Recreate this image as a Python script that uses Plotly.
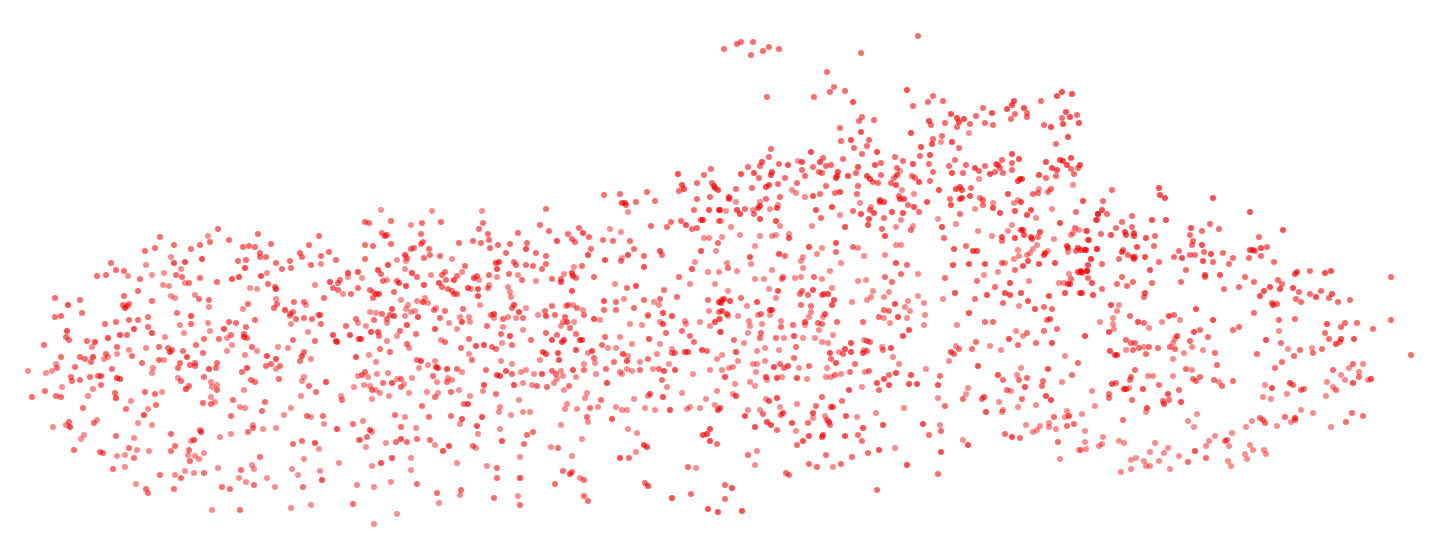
import plotly.graph_objects as go

# points as (x, y, shade), shade 1 = pale, 2 = medium, 3 = strong
west = [
(218,229,2),(208,236,1),(160,237,2),(258,234,2),(319,236,2),(229,240,2),(210,242,2),(174,245,2),(200,245,2),(271,244,2),
(309,245,2),(155,248,2),(191,249,2),(145,251,2),(243,247,2),(249,246,2),(255,247,2),(260,253,2),(260,257,2),(266,257,2),
(300,253,2),(302,257,2),(329,252,2),(321,256,2),(336,260,2),(171,257,1),(202,259,3),(238,261,2),(246,260,2),(174,263,3),
(185,262,3),(146,265,1),(111,263,2),(290,261,2),(276,263,2),(311,265,2),(321,264,1),(245,268,3),(282,269,2),(291,268,2),
(181,269,1),(116,270,2),(124,271,2),(128,276,1),(97,276,2),(106,275,2),(164,273,1),(152,275,1),(176,275,2),(182,277,2),
(267,273,1),(232,279,3),(239,277,3),(261,276,3),(200,278,2),(140,279,2),(217,282,2),(348,273,3),(358,272,3),(348,277,1),
(340,280,2),(330,282,3),(338,283,2),(185,283,1),(189,283,2),(163,285,1),(169,286,1),(268,284,2),(315,285,1),(250,288,1),
(257,289,1),(275,287,2),(276,289,3),(333,288,2),(338,290,2),(343,294,1),(351,294,2),(358,288,2),(138,291,2),(124,296,2),
(55,298,2),(80,300,2),(171,296,1),(175,298,1),(195,295,1),(199,299,2),(152,301,2),(209,300,2),(209,307,1),(276,299,1),
(277,304,2),(294,302,2),(304,302,2),(306,305,1),(324,298,2),(68,305,3),(123,305,2),(129,304,2),(127,306,2),(125,308,3),
(248,304,2),(243,309,1),(274,308,2),(285,310,3),(293,312,2),(290,314,2),(290,316,1),(82,313,2),(55,317,2),(61,316,2),
(177,313,2),(191,316,3),(148,317,2),(138,320,2),(129,320,2),(255,320,2),(296,319,2),(304,318,2),(312,319,2),(318,315,1),
(320,315,3),(356,319,2),(358,323,1),(116,322,2),(105,324,2),(191,324,2),(180,325,1),(229,322,2),(236,323,2),(208,323,1),
(291,324,1),(321,324,2),(134,329,3),(148,327,2),(67,331,3),(224,329,3),(246,327,2),(210,331,1),(346,326,2),(152,333,3),
(184,333,1),(120,335,3),(127,335,2),(231,335,2),(227,338,1),(244,334,2),(244,337,3),(247,338,2),(308,332,1),(333,335,3),
(350,335,3),(66,337,2),(69,340,2),(108,338,3),(87,341,2),(95,342,3),(165,337,1),(204,339,2),(219,339,2),(293,340,2),
(315,341,2),(336,341,3),(337,342,3),(359,339,3),(44,345,2),(92,347,1),(117,347,2),(196,345,2),(232,345,1),(146,348,1),
(159,347,2),(168,348,2),(172,350,2),(170,352,3),(252,347,2),(257,351,1),(278,347,1),(288,348,1),(129,350,1),(183,351,2),
(203,353,2),(227,351,1),(304,352,2),(302,356,3),(61,357,2),(80,357,2),(93,357,3),(85,359,2),(106,354,2),(108,357,1),
(104,359,1),(117,354,1),(132,356,2),(187,357,3),(245,355,1),(267,356,3),(276,359,3),(311,359,1),(356,357,3),(91,362,2),
(159,360,2),(164,360,1),(56,364,1),(57,368,2),(52,371,1),(46,373,1),(28,371,1),(75,367,2),(142,363,2),(153,368,1),
(180,363,2),(178,368,2),(190,365,2),(195,363,2),(195,366,2),(217,363,2),(216,368,2),(209,369,3),(247,368,3),(242,372,2),
(266,366,2),(271,364,2),(276,369,1),(280,366,2),(300,361,2),(112,369,2),(152,373,1),(204,377,2),(358,376,1),(71,377,2),
(90,377,2),(98,376,2),(101,376,3),(117,378,3),(120,379,3),(72,381,2),(80,380,2),(178,378,1),(181,381,2),(279,379,2),
(251,380,2),(255,382,2),(304,377,1),(302,381,1),(326,382,3),(62,387,1),(101,385,2),(211,382,1),(212,387,1),(217,385,1),
(217,390,2),(189,386,2),(186,389,3),(309,386,2),(354,387,1),(93,389,1),(45,391,2),(244,390,1),(316,392,2),(145,392,2),
(155,394,2),(162,392,1),(115,393,2),(116,398,3),(56,396,2),(61,397,2),(32,397,2),(88,396,1),(301,396,1),(341,396,1),
(342,400,2),(211,397,1),(233,400,2),(131,401,1),(203,403,2),(211,404,2),(215,402,1),(265,402,2),(156,405,2),(83,408,2),
(126,409,2),(148,409,1),(240,407,1),(245,408,1),(291,408,1),(262,411,2),(144,415,3),(231,416,2),(284,415,1),(307,416,2),
(311,417,1),(323,416,2),(97,420,1),(94,423,2),(69,422,2),(66,425,1),(70,427,3),(53,427,1),(138,423,1),(152,425,1),
(324,424,1),(353,424,2),(253,425,1),(253,428,2),(248,432,2),(263,429,1),(276,428,1),(200,430,2),(201,432,3),(337,429,3),
(84,435,1),(81,439,1),(116,436,2),(134,438,1),(171,434,2),(220,437,1),(231,434,1),(191,441,1),(194,440,3),(302,441,2),
(293,444,2),(315,443,3),(319,449,1),(359,440,1),(175,446,2),(189,450,2),(171,451,2),(129,448,2),(137,450,1),(149,451,1),
(74,450,2),(100,452,2),(103,453,2),(188,455,1),(204,453,1),(195,456,1),(199,459,1),(190,461,2),(117,456,1),(125,455,1),
(134,458,2),(260,457,2),(304,459,1),(339,463,1),(113,469,2),(125,467,1),(218,468,1),(252,465,1),(254,469,1),(241,470,2),
(292,469,1),(320,471,1),(185,471,1),(194,473,1),(204,473,2),(160,475,2),(175,475,1),(181,478,2),(298,475,1),(239,478,1),
(267,478,1),(322,480,3),(246,482,1),(254,485,2),(136,484,1),(357,485,1),(303,487,2),(222,487,2),(230,489,2),(275,487,1),
(146,489,2),(174,489,2),(148,493,2),(311,505,1),(353,504,2),(291,508,1),(240,510,2),(212,510,1),
]

centre = [
(604,195,2),(620,194,2),(647,192,2),(679,191,2),(697,199,2),(710,197,2),(622,203,3),(625,203,3),(626,205,2),(636,202,2),
(655,201,2),(628,212,1),(546,209,2),(381,210,1),(432,211,1),(482,211,1),(694,210,2),(709,210,3),(719,210,3),(391,221,2),
(365,222,2),(369,223,2),(411,225,1),(422,223,2),(441,222,2),(483,223,2),(540,225,2),(579,228,2),(610,229,1),(621,232,1),
(651,226,2),(671,222,2),(667,227,2),(681,221,2),(686,225,3),(692,229,2),(697,228,2),(701,220,3),(703,220,3),(719,221,2),
(479,229,2),(488,234,2),(518,233,2),(549,231,2),(568,234,2),(583,233,3),(589,237,2),(382,233,2),(385,236,3),(387,235,2),
(421,234,2),(489,240,2),(557,241,3),(572,239,2),(575,242,2),(603,240,2),(613,241,2),(630,241,2),(704,238,1),(709,238,1),
(718,243,2),(365,245,2),(373,246,2),(391,244,2),(423,242,2),(421,244,2),(459,243,2),(473,241,2),(481,243,2),(498,245,2),
(510,244,2),(527,243,2),(429,249,2),(411,249,2),(414,248,2),(490,248,2),(526,249,3),(634,249,2),(591,249,2),(506,253,2),
(536,253,2),(588,255,3),(660,251,3),(662,255,2),(701,251,3),(716,251,1),(405,255,3),(407,258,2),(430,255,2),(440,256,2),
(424,258,2),(546,256,2),(628,255,3),(644,256,2),(622,258,1),(621,261,2),(365,259,2),(397,260,1),(406,261,1),(452,259,1),
(605,260,3),(514,262,2),(516,265,2),(496,263,3),(499,262,3),(526,265,2),(533,266,2),(546,264,2),(388,265,3),(465,266,2),
(497,269,3),(542,269,2),(574,267,1),(582,266,2),(644,267,3),(695,262,1),(692,269,3),(378,270,3),(381,274,2),(405,269,1),
(462,272,1),(708,272,1),(719,272,1),(412,273,3),(431,275,1),(442,275,2),(445,272,2),(457,276,2),(489,275,2),(509,274,2),
(518,275,1),(564,274,1),(572,273,3),(573,276,3),(576,278,2),(594,277,2),(679,277,2),(417,277,2),(362,278,1),(474,278,3),
(477,276,2),(497,277,1),(522,280,2),(536,281,1),(552,279,2),(561,279,2),(561,282,3),(383,281,2),(387,280,1),(397,281,2),
(399,283,3),(446,280,2),(454,280,3),(479,280,1),(615,284,1),(690,284,1),(715,284,1),(406,286,3),(424,285,3),(439,283,3),
(442,287,2),(489,285,1),(508,287,1),(636,286,3),(627,288,2),(370,290,2),(373,292,1),(394,292,2),(448,289,2),(452,291,2),
(468,288,3),(471,289,1),(478,289,3),(488,288,2),(510,292,1),(664,290,2),(572,291,3),(376,294,3),(379,294,3),(373,298,2),
(454,294,2),(457,294,2),(478,296,3),(511,297,1),(677,297,2),(401,300,1),(417,301,1),(423,302,3),(425,298,1),(428,303,1),
(604,301,3),(624,299,1),(616,302,2),(644,300,2),(654,302,1),(660,299,2),(659,305,1),(708,300,2),(719,302,3),(408,305,1),
(480,305,1),(514,305,3),(512,308,2),(526,308,1),(552,306,2),(568,305,2),(566,306,1),(573,305,1),(577,308,2),(604,310,2),
(616,310,2),(634,308,2),(709,311,1),(392,309,3),(406,309,1),(436,308,1),(434,310,2),(463,309,2),(583,310,1),(719,312,2),
(370,312,1),(376,313,1),(382,314,2),(390,315,2),(394,316,3),(411,312,1),(415,311,1),(445,311,2),(519,312,3),(545,311,2),
(663,313,3),(648,315,1),(672,316,3),(405,316,1),(418,317,3),(460,317,1),(469,317,1),(440,318,2),(494,314,3),(491,315,2),
(494,318,1),(503,319,2),(508,317,1),(516,318,1),(523,318,2),(538,315,1),(546,316,3),(555,315,2),(584,315,2),(565,317,2),
(594,319,3),(600,320,1),(648,316,1),(374,320,2),(387,319,2),(387,323,1),(462,322,3),(470,322,1),(449,323,1),(563,322,1),
(567,322,3),(574,322,1),(630,324,1),(642,325,1),(660,322,1),(663,324,3),(685,321,1),(686,324,1),(700,322,1),(710,326,1),
(715,322,3),(719,319,1),(366,326,1),(407,325,3),(435,329,3),(457,329,1),(487,326,2),(503,327,1),(523,330,1),(561,326,1),
(570,328,2),(371,332,3),(378,332,3),(400,331,2),(546,333,2),(576,334,2),(666,333,2),(682,331,2),(720,332,2),(379,336,2),
(397,336,1),(416,334,2),(510,336,3),(501,334,2),(557,335,2),(605,337,2),(620,337,1),(690,336,2),(361,339,3),(387,341,1),
(441,340,1),(445,342,2),(469,339,2),(531,340,2),(552,340,3),(564,340,3),(562,342,3),(580,340,3),(582,340,3),(649,339,3),
(694,342,2),(407,344,2),(409,348,1),(380,349,2),(476,346,3),(484,345,3),(502,343,1),(512,345,2),(492,347,2),(496,349,2),
(461,348,2),(602,345,2),(608,348,1),(616,348,1),(632,344,1),(660,344,1),(390,352,2),(576,350,3),(588,353,1),(592,351,3),
(543,352,3),(546,354,3),(558,353,3),(623,354,3),(657,354,1),(672,349,1),(672,353,2),(675,353,2),(685,352,3),(688,352,3),
(702,350,3),(707,351,2),(369,355,1),(469,354,1),(594,358,2),(628,356,1),(648,359,2),(472,360,2),(559,360,3),(627,361,3),
(717,359,1),(376,362,1),(417,360,2),(421,361,3),(435,361,1),(428,365,1),(501,361,1),(512,364,1),(540,360,1),(595,363,1),
(584,364,1),(614,362,2),(640,362,1),(669,364,1),(419,368,1),(436,367,3),(438,368,3),(447,369,3),(457,369,2),(486,370,2),
(521,372,1),(526,370,1),(552,371,2),(561,371,1),(573,370,3),(584,370,2),(606,369,2),(620,372,1),(627,369,1),(632,371,1),
(640,370,2),(653,369,1),(659,369,2),(664,371,3),(675,370,3),(710,370,1),(365,372,2),(362,375,2),(377,374,1),(388,373,1),
(462,372,1),(433,376,2),(497,375,3),(500,376,3),(506,371,3),(512,374,2),(534,374,1),(542,374,3),(556,374,2),(563,376,1),
(576,377,1),(596,374,1),(622,374,1),(693,374,1),(368,377,1),(412,378,1),(401,379,2),(397,379,1),(448,378,1),(452,380,1),
(557,379,1),(662,380,2),(383,383,2),(392,383,3),(404,384,1),(401,387,2),(437,382,1),(447,382,2),(484,385,3),(523,383,1),
(514,385,3),(532,385,1),(537,386,2),(554,383,1),(547,387,2),(569,386,2),(607,383,3),(667,387,1),(364,385,1),(370,386,1),
(372,390,2),(376,390,1),(380,393,1),(427,392,1),(409,393,1),(438,393,1),(451,392,2),(459,390,1),(483,391,1),(496,394,2),
(564,390,1),(717,391,1),(682,393,1),(389,396,1),(435,397,2),(372,399,1),(470,396,1),(587,393,1),(585,398,1),(650,394,3),
(648,396,1),(663,397,3),(519,400,1),(601,400,2),(634,399,1),(706,399,1),(422,406,2),(464,404,2),(468,404,3),(500,407,1),
(567,404,1),(616,407,1),(715,405,1),(565,409,1),(577,409,1),(590,408,2),(598,407,1),(622,410,1),(627,410,1),(645,408,1),
(655,410,1),(670,410,3),(687,409,1),(690,407,1),(700,408,1),(718,410,3),(499,412,1),(523,412,1),(530,412,1),(511,415,1),
(395,415,2),(405,417,1),(429,417,2),(451,416,2),(462,419,3),(482,417,3),(587,417,2),(588,422,1),(612,419,3),(363,421,1),
(460,424,1),(561,425,1),(401,427,2),(416,428,1),(477,426,3),(500,429,1),(628,429,1),(710,429,3),(370,430,3),(372,432,1),
(533,432,2),(637,433,1),(478,434,1),(527,435,2),(367,437,2),(703,435,3),(707,434,3),(401,439,3),(417,439,2),(360,440,1),
(430,440,2),(386,443,1),(396,442,2),(407,442,2),(502,441,3),(582,439,1),(710,441,3),(366,447,1),(435,445,1),(449,446,3),
(473,446,2),(476,448,1),(524,444,2),(551,447,1),(558,448,2),(644,445,3),(647,447,3),(717,444,2),(443,451,3),(572,456,1),
(636,452,1),(392,458,3),(411,458,1),(520,457,1),(620,458,3),(629,458,2),(381,463,3),(457,463,1),(372,466,1),(487,466,1),
(497,468,2),(411,470,1),(688,467,2),(696,468,1),(563,471,2),(572,472,2),(570,474,3),(520,478,3),(497,478,2),(580,478,1),
(584,480,2),(391,482,1),(417,484,2),(374,487,1),(555,484,2),(645,483,2),(648,486,3),(437,493,2),(461,490,2),(460,495,1),
(494,498,2),(518,496,1),(691,494,2),(584,496,2),(672,498,3),(439,503,1),(520,505,2),(588,501,2),(708,509,3),(718,512,3),
(397,514,1),(374,524,1),(678,174,3),(682,185,3),(684,189,3),(697,183,2),(704,175,2),(711,169,2),(712,183,2),(714,186,3),
(715,188,3),(718,190,3),
]

north = [
(918,36,2),(724,49,2),(737,44,2),(741,42,2),(753,42,2),(751,55,2),(763,51,2),(769,47,2),(779,49,2),(861,53,2),
(827,72,2),(834,87,2),(830,92,2),(845,91,2),(767,97,2),(814,97,2),(853,102,3),(907,90,3),(933,96,2),(928,102,2),
(943,101,2),(913,106,2),(1014,101,3),(1012,105,3),(1041,101,2),(1057,96,3),(1062,92,3),(1072,94,3),(983,108,2),(1007,109,3),
(1024,108,3),(1027,113,2),(1027,117,2),(951,114,3),(976,116,2),(992,113,3),(1015,114,2),(1011,119,2),(1066,112,3),(1062,118,2),
(1070,117,3),(1077,115,2),(862,117,2),(859,121,2),(874,120,2),(957,118,3),(959,122,3),(964,119,3),(929,121,3),(931,125,2),
(945,123,2),(970,124,2),(957,127,2),(985,123,2),(993,125,2),(1044,125,2),(1051,127,3),(1063,124,3),(1079,123,3),(840,128,2),
(861,132,3),(911,133,3),(969,133,1),(942,136,2),(933,139,2),(1068,137,3),(841,141,2),(851,140,3),(869,140,2),(932,144,3),
(941,142,1),(952,142,3),(854,148,2),(867,146,2),(921,147,3),(959,148,2),(1056,144,2),(771,149,2),(811,152,3),(862,154,2),
(877,152,3),(930,155,3),(1012,154,3),(769,157,2),(895,157,2),(920,156,2),(823,158,2),(843,159,2),(903,161,2),(955,160,2),
(1002,160,2),(1019,159,3),(1071,158,3),(1060,160,3),(1063,161,3),(762,162,3),(760,166,2),(798,161,1),(802,162,3),(820,162,3),
(813,167,2),(779,164,2),(788,165,3),(826,166,2),(831,165,2),(858,167,3),(875,165,3),(881,163,2),(913,164,3),(929,164,2),
(949,166,2),(966,165,2),(996,164,2),(998,165,3),(1012,163,2),(1046,162,3),(1067,165,3),(1080,165,3),(1078,168,2),(748,167,2),
(897,168,2),(900,171,1),(975,168,3),(979,171,2),(985,166,2),(1000,168,2),(1012,170,2),(1052,168,3),(1057,170,3),(1071,169,2),
(741,174,3),(754,173,3),(772,172,3),(771,175,3),(802,170,2),(819,172,2),(822,173,2),(838,172,3),(856,173,2),(933,172,2),
(952,173,3),(963,173,2),(995,172,2),(990,174,3),(1003,173,2),(1039,175,3),(1074,174,2),(759,178,2),(785,178,2),(805,176,2),
(837,176,3),(836,178,3),(848,176,3),(867,176,3),(870,179,3),(881,175,2),(897,175,3),(894,178,2),(912,176,2),(915,178,2),
(930,181,2),(1046,178,2),(1056,176,2),(797,183,2),(873,182,2),(878,183,2),(891,183,2),(919,182,3),(979,179,1),(1018,181,3),
(1020,179,3),(1022,179,3),(766,187,3),(769,185,3),(778,184,2),(752,188,2),(736,189,2),(826,186,2),(858,186,2),(896,185,3),
(956,189,3),(960,187,3),(962,190,3),(971,188,2),(1073,185,1),(792,190,1),(939,190,3),(902,190,1),(1039,189,1),(1051,189,2),
(796,193,1),(835,193,2),(840,192,3),(857,194,2),(820,194,2),(914,194,1),(1008,194,3),(1033,194,2),(1038,193,2),(1048,192,2),
(729,197,3),(729,199,3),(766,199,2),(780,197,2),(805,197,1),(813,196,3),(899,196,2),(970,196,3),(960,199,3),(962,198,3),
(736,202,1),(760,202,1),(860,203,1),(880,200,3),(880,202,3),(884,202,3),(900,199,3),(904,199,3),(950,199,2),(927,202,3),
(980,198,2),(983,200,2),(1018,200,1),(1021,202,3),(1014,203,1),(1083,201,3),(993,203,1),(726,211,1),(720,210,3),(737,210,3),
(740,214,3),(745,209,2),(753,210,1),(754,214,2),(758,208,3),(760,206,3),(778,205,1),(777,208,3),(770,209,1),(832,207,3),
(816,210,3),(871,207,1),(870,210,2),(874,213,3),(908,205,2),(914,207,3),(951,205,3),(983,205,2),(975,209,1),(993,208,3),
(1052,209,1),(1015,211,3),(1031,210,3),(1027,215,3),(853,211,2),(861,214,3),(840,215,1),(892,212,3),(903,213,3),(919,212,2),
(960,214,2),(1000,213,3),(1076,212,2),(1098,214,2),(760,219,3),(821,218,2),(869,219,3),(884,218,2),(901,220,1),(938,219,1),
(1036,218,1),(1097,220,2),(721,221,1),(776,221,3),(1060,223,3),(780,226,1),(731,227,1),(812,226,1),(845,227,3),(868,225,3),
(896,227,1),(913,226,1),(942,227,3),(956,224,1),(1012,225,1),(1075,228,2),(882,229,2),(911,230,2),(978,231,1),(1008,231,1),
(1021,230,3),(1023,230,3),(1040,232,3),(1079,230,1),(1086,231,1),(1073,233,1),(1071,235,1),(740,235,1),(722,237,1),(760,236,1),
(772,236,1),(776,235,1),(789,234,1),(789,238,3),(885,236,3),(992,236,1),(1024,235,3),(1031,237,3),(1032,239,3),(1002,237,3),
(1002,241,2),(1015,238,3),(1038,237,2),(1054,239,1),(1088,240,2),(944,238,2),(836,243,3),(755,246,1),(809,247,3),(822,248,1),
(853,247,2),(858,248,1),(896,245,1),(901,245,1),(966,246,2),(1037,245,1),(1067,246,3),(1068,248,3),(1078,248,3),(1085,250,3),
(1097,249,2),(954,249,3),(1033,249,1),(779,254,3),(785,256,2),(836,252,2),(817,254,1),(885,255,1),(864,256,1),(973,251,3),
(977,251,3),(1018,250,1),(1019,256,1),(1027,255,1),(1030,253,1),(1048,251,1),(1045,253,3),(1044,255,3),(1068,252,1),(1076,251,2),
(1091,259,1),(750,257,3),(803,257,1),(801,261,1),(1014,259,1),(1028,261,3),(727,263,1),(751,264,1),(841,263,1),(896,263,3),
(907,265,2),(969,264,3),(985,264,3),(1002,263,2),(1005,263,1),(1039,264,3),(1055,263,3),(953,265,3),(1088,265,1),(728,268,2),
(737,271,1),(772,270,1),(803,268,1),(830,271,1),(1023,266,3),(1015,270,2),(998,272,1),(1078,272,3),(1081,272,3),(1087,271,3),
(1069,274,1),(984,275,1),(901,274,2),(918,274,1),
]

south = [
(755,279,1),(764,279,1),(782,279,2),(783,277,2),(795,278,1),(801,277,1),(814,277,2),(822,279,1),(858,281,1),(866,280,1),
(885,277,2),(892,282,2),(945,278,2),(977,281,2),(995,287,2),(1010,283,3),(1029,281,1),(1059,283,1),(1064,283,1),(1071,279,2),
(1068,284,3),(1070,284,3),(769,289,1),(778,291,3),(802,291,2),(800,294,2),(808,295,2),(813,290,3),(832,288,1),(824,294,2),
(822,295,2),(828,294,3),(728,291,1),(873,291,1),(889,292,1),(918,296,1),(955,293,3),(987,295,3),(1005,293,3),(1010,295,3),
(1021,293,3),(1049,296,3),(1065,293,3),(1080,293,3),(741,298,2),(776,298,1),(722,300,3),(724,299,3),(721,303,3),(730,301,3),
(834,300,3),(867,300,1),(871,297,1),(884,297,1),(852,302,1),(943,299,1),(975,299,2),(1028,301,3),(747,306,1),(757,302,3),
(801,305,2),(811,306,2),(832,305,3),(895,304,3),(908,301,1),(905,307,1),(924,303,1),(1003,303,2),(1019,306,1),(1044,307,2),
(1052,309,2),(1035,309,3),(722,311,3),(770,310,3),(772,310,3),(884,310,2),(889,311,2),(910,311,1),(811,312,1),(969,313,3),
(727,314,3),(728,316,1),(738,316,1),(758,315,1),(761,314,2),(770,315,1),(809,317,1),(825,314,3),(823,317,1),(879,317,2),
(884,318,1),(898,317,3),(907,318,1),(925,315,1),(1050,319,3),(1047,320,2),(720,319,1),(749,321,1),(781,321,1),(837,322,2),
(863,322,2),(805,322,3),(818,323,2),(822,324,2),(890,323,1),(985,322,2),(993,322,2),(762,324,1),(750,326,1),(781,327,2),
(793,325,2),(805,325,1),(924,325,1),(957,325,1),(819,330,1),(909,330,3),(1057,329,2),(1044,331,2),(1016,331,1),(748,333,1),
(761,333,2),(833,335,1),(903,336,3),(1027,333,2),(1023,336,1),(760,338,2),(776,338,2),(784,338,1),(794,336,3),(803,338,1),
(815,338,1),(1009,339,3),(721,332,1),(734,340,2),(744,343,1),(822,342,1),(828,343,1),(851,343,3),(864,340,1),(867,341,2),
(870,342,2),(1036,343,2),(1052,343,3),(1018,345,2),(796,347,2),(891,348,3),(882,347,1),(956,346,1),(976,342,2),(990,346,1),
(736,352,3),(757,351,1),(765,348,1),(779,350,1),(883,350,2),(845,349,3),(839,352,1),(843,354,2),(851,352,3),(863,353,3),
(864,350,1),(867,351,2),(830,353,3),(951,352,3),(954,354,2),(959,349,2),(972,349,2),(1001,350,1),(722,355,1),(794,358,2),
(831,359,2),(893,357,1),(1065,356,1),(738,361,1),(765,361,1),(836,363,3),(949,361,1),(1078,363,2),(733,367,1),(753,364,1),
(757,364,1),(780,364,2),(774,367,3),(788,366,3),(784,368,2),(799,368,1),(809,366,2),(855,364,2),(899,364,1),(978,366,3),
(722,370,1),(729,368,1),(756,372,1),(827,368,1),(869,371,2),(865,372,1),(850,372,2),(841,374,1),(926,369,1),(1021,368,1),
(1048,369,3),(725,377,3),(766,377,3),(777,378,3),(782,377,1),(797,378,3),(807,379,1),(826,377,1),(831,377,1),(835,375,2),
(889,375,2),(896,373,3),(911,375,3),(940,376,2),(998,375,3),(1017,375,1),(1027,378,2),(1072,375,2),(767,380,1),(884,379,3),
(1003,380,2),(1019,380,2),(1043,381,2),(1062,382,1),(735,384,1),(750,382,1),(755,386,1),(877,383,3),(889,385,3),(909,384,3),
(917,384,3),(938,385,3),(1042,386,2),(862,387,1),(1025,387,3),(968,388,1),(849,390,3),(879,390,2),(1007,390,2),(1011,391,1),
(733,394,1),(736,396,3),(966,394,1),(1046,396,3),(766,399,1),(769,401,3),(777,398,3),(822,397,2),(842,401,2),(938,398,1),
(963,399,2),(982,399,2),(984,397,3),(999,402,1),(1022,399,2),(1051,400,3),(797,404,1),(780,407,1),(816,406,2),(831,407,3),
(833,407,2),(904,408,1),(945,406,2),(1018,407,1),(1036,405,1),(748,410,1),(760,410,1),(720,408,3),(783,413,3),(1003,410,1),
(1002,412,1),(986,412,3),(1067,411,1),(745,416,3),(763,414,2),(781,415,2),(813,413,3),(813,418,1),(825,416,1),(846,416,3),
(857,417,1),(876,413,1),(1065,417,1),(1069,416,3),(1054,417,2),(767,422,3),(771,425,3),(792,423,3),(808,423,2),(827,420,2),
(829,422,3),(830,425,2),(883,425,3),(923,424,3),(940,425,1),(1026,425,1),(1049,423,1),(1049,427,1),(1040,426,1),(1067,426,2),
(1074,424,2),(755,427,3),(777,430,2),(796,431,1),(863,428,3),(941,431,2),(1033,432,1),(1037,430,1),(1056,429,1),(809,436,3),
(823,435,3),(822,437,3),(845,436,3),(858,435,2),(929,435,2),(1005,434,2),(1012,437,3),(1020,438,2),(803,441,3),(862,441,2),
(963,440,1),(968,445,3),(1058,442,2),(797,445,2),(895,448,1),(757,451,1),(748,455,2),(826,455,2),(868,453,2),(879,450,3),
(941,452,3),(852,457,2),(1079,450,1),(755,465,1),(809,464,2),(817,467,2),(833,467,1),(841,464,2),(907,465,3),(1060,459,1),
(786,473,2),(789,475,2),(938,474,2),(725,485,2),(732,488,3),(877,490,2),(725,499,2),(742,511,3),
]

east = [
(1112,190,2),(1159,188,3),(1160,195,3),(1165,198,3),(1213,198,3),(1103,201,2),(1102,210,3),(1098,214,3),(1107,214,2),(1096,220,2),
(1250,212,3),(1132,216,2),(1152,220,3),(1166,220,3),(1122,222,2),(1132,227,2),(1116,228,2),(1210,224,2),(1191,228,3),(1219,229,2),
(1283,230,3),(1202,231,2),(1087,231,2),(1125,232,3),(1126,235,3),(1134,233,3),(1134,236,3),(1101,234,2),(1111,235,3),(1155,236,2),
(1190,235,2),(1146,238,3),(1259,237,2),(1089,240,2),(1193,241,2),(1192,245,2),(1202,245,3),(1154,246,2),(1137,247,3),(1261,248,3),
(1267,247,2),(1081,250,3),(1086,250,3),(1097,249,2),(1122,252,3),(1123,250,2),(1179,251,2),(1204,252,2),(1211,254,3),(1223,253,2),
(1250,250,3),(1253,250,3),(1255,251,2),(1128,255,2),(1133,257,3),(1134,259,3),(1135,257,2),(1145,257,3),(1119,259,2),(1091,259,2),
(1174,257,2),(1182,258,3),(1190,255,2),(1195,255,2),(1261,256,2),(1233,258,2),(1249,258,2),(1203,261,3),(1213,262,2),(1159,262,2),
(1274,262,2),(1229,264,2),(1102,264,2),(1088,265,1),(1186,270,2),(1150,270,3),(1087,271,3),(1082,273,2),(1081,271,3),(1310,271,2),
(1297,272,3),(1295,274,3),(1331,271,3),(1325,273,3),(1205,275,3),(1205,277,2),(1220,275,3),(1391,277,2),(1122,277,2),(1088,278,2),
(1245,277,2),(1092,283,3),(1117,284,2),(1133,282,2),(1152,283,2),(1181,282,2),(1254,282,2),(1278,280,2),(1282,284,2),(1127,286,2),
(1102,289,2),(1224,289,2),(1239,287,2),(1270,287,3),(1280,289,3),(1293,288,3),(1264,291,3),(1082,293,3),(1145,293,3),(1093,295,3),
(1144,297,2),(1299,292,2),(1310,294,2),(1321,291,2),(1316,297,3),(1332,294,3),(1329,298,2),(1260,296,3),(1296,299,2),(1338,302,2),
(1350,300,2),(1301,302,2),(1272,303,2),(1273,305,3),(1277,304,2),(1111,305,3),(1119,305,1),(1117,311,1),(1196,309,3),(1254,313,2),
(1130,316,2),(1169,316,3),(1174,315,2),(1113,318,1),(1180,320,1),(1213,320,3),(1295,319,2),(1279,320,2),(1391,320,2),(1100,322,1),
(1138,322,3),(1144,323,2),(1162,322,1),(1113,324,1),(1327,324,3),(1345,323,2),(1357,323,2),(1149,328,1),(1114,329,1),(1109,332,3),
(1194,332,3),(1200,330,2),(1233,330,2),(1239,327,2),(1279,331,1),(1341,327,2),(1373,329,2),(1325,333,2),(1177,336,3),(1085,336,3),
(1208,337,2),(1126,340,2),(1190,341,2),(1175,339,1),(1266,340,3),(1329,339,2),(1341,339,3),(1354,339,3),(1131,343,2),(1135,343,2),
(1173,343,1),(1281,343,2),(1336,344,3),(1340,342,2),(1126,350,1),(1133,350,2),(1139,348,2),(1144,347,1),(1149,347,2),(1158,348,2),
(1170,347,2),(1175,349,2),(1192,347,1),(1203,350,1),(1288,349,1),(1300,350,2),(1312,348,1),(1322,349,2),(1110,351,3),(1115,355,3),
(1117,355,3),(1146,354,2),(1184,353,1),(1215,353,2),(1257,354,2),(1294,356,2),(1313,353,2),(1411,355,2),(1173,359,1),(1282,362,2),
(1217,365,2),(1275,368,2),(1186,369,2),(1192,370,1),(1135,370,2),(1333,370,2),(1353,364,2),(1349,368,1),(1363,364,1),(1359,372,1),
(1148,376,1),(1153,376,1),(1173,376,1),(1200,377,2),(1131,377,2),(1341,375,1),(1359,377,2),(1130,380,2),(1193,379,2),(1196,381,2),
(1214,380,2),(1219,382,1),(1233,381,2),(1345,380,1),(1327,382,1),(1368,380,1),(1371,379,3),(1353,383,3),(1112,384,3),(1116,383,2),
(1159,385,2),(1222,386,2),(1265,385,1),(1290,383,3),(1293,385,2),(1124,389,3),(1126,389,3),(1129,388,1),(1143,389,3),(1179,390,2),
(1092,391,1),(1272,388,3),(1304,389,2),(1301,390,2),(1333,387,1),(1336,390,2),(1109,394,2),(1168,394,3),(1287,394,1),(1326,396,1),
(1109,398,2),(1132,400,2),(1169,400,2),(1163,401,2),(1164,404,3),(1181,402,3),(1263,397,1),(1271,399,1),(1095,406,1),(1147,408,3),
(1146,412,1),(1301,410,1),(1313,413,1),(1352,413,2),(1197,414,1),(1082,414,1),(1123,420,2),(1260,418,2),(1263,420,2),(1265,423,2),
(1252,421,1),(1285,417,2),(1291,422,1),(1295,418,3),(1295,420,2),(1363,416,2),(1188,421,1),(1346,422,2),(1194,427,1),(1246,427,1),
(1277,426,1),(1331,427,1),(1085,431,1),(1232,433,1),(1215,436,1),(1209,441,1),(1225,441,2),(1227,440,2),(1103,437,1),(1119,441,1),
(1124,443,1),(1085,442,1),(1102,444,1),(1099,446,1),(1155,443,1),(1206,446,1),(1229,446,1),(1250,445,1),(1168,448,1),(1086,449,1),
(1081,450,1),(1253,450,1),(1264,450,1),(1150,452,1),(1195,451,3),(1164,453,1),(1245,454,1),(1266,454,1),(1179,456,1),(1206,458,2),
(1131,460,1),(1136,458,1),(1247,459,1),(1144,461,1),(1159,461,1),(1188,462,2),(1228,461,1),(1231,466,1),(1146,466,1),(1150,466,1),
(1131,469,1),(1170,469,1),(1121,472,1),
]

shade_opacity = {1: 0.45, 2: 0.58, 3: 0.7}

points = west + centre + north + south + east
xs = [p[0] for p in points]
ys = [p[1] for p in points]
opacity = [shade_opacity[p[2]] for p in points]

fig = go.Figure(
    go.Scatter(
        x=xs, y=ys, mode="markers", hoverinfo="skip",
        marker=dict(color="#ff0000", size=6, opacity=opacity, line=dict(width=0)),
    )
)
fig.update_xaxes(range=[0, 1439], visible=False)
fig.update_yaxes(range=[547, 0], visible=False)
fig.update_layout(
    width=1439, height=547, margin=dict(l=0, r=0, t=0, b=0),
    plot_bgcolor="white", paper_bgcolor="white", showlegend=False,
)
fig.write_html(
    "out.html",
    config={"displayModeBar": False},
    post_script="document.body.style.margin = '0';",
)
